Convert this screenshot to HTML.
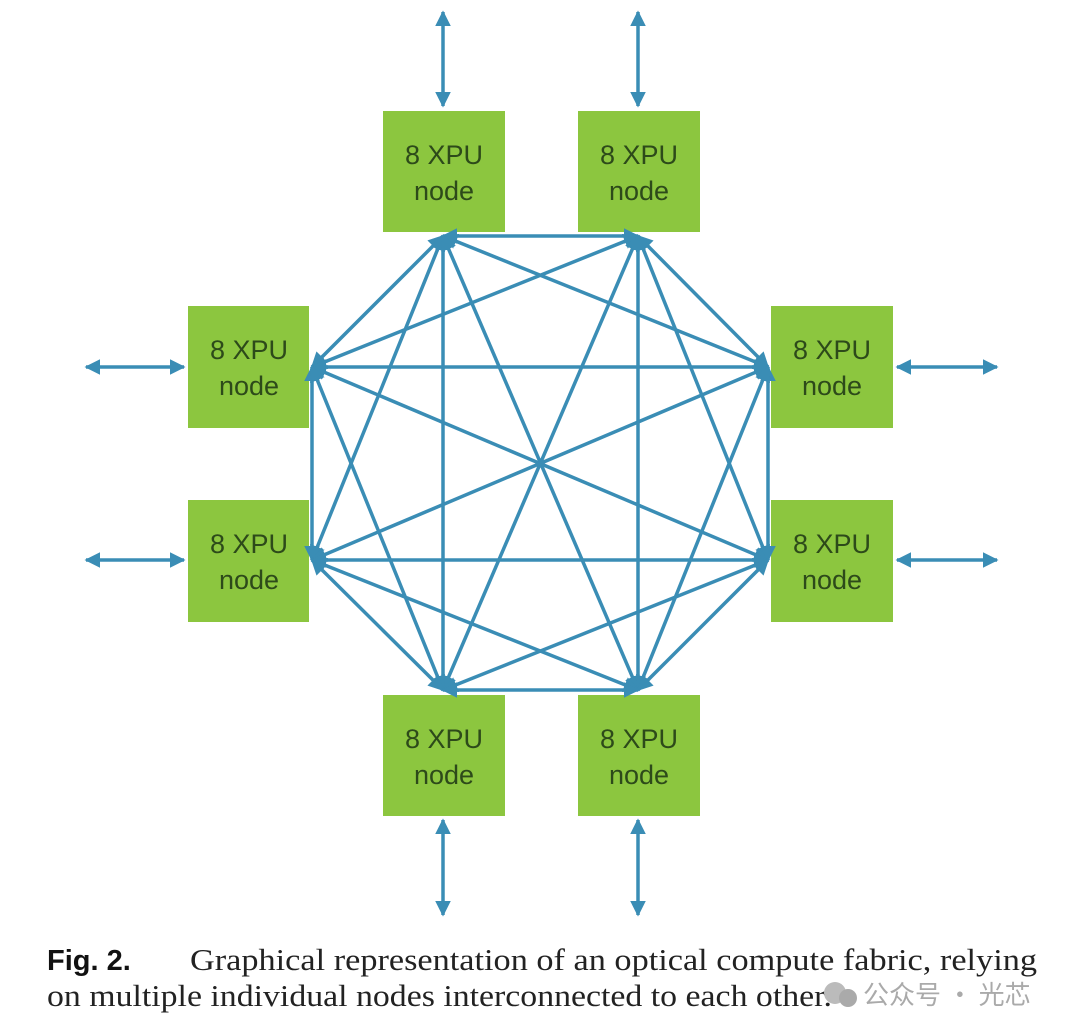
<!DOCTYPE html>
<html><head><meta charset="utf-8"><style>
html,body{margin:0;padding:0;background:#fff;width:1080px;height:1036px;overflow:hidden}
</style></head><body>
<svg width="1080" height="1036" viewBox="0 0 1080 1036" xmlns="http://www.w3.org/2000/svg">
<defs>
<marker id="a" viewBox="0 0 10 10" refX="9" refY="5" markerWidth="4.5" markerHeight="4.5" orient="auto-start-reverse" markerUnits="strokeWidth">
<path d="M0,0 L10,5 L0,10 z" fill="#3a8db5"/></marker>
</defs>
<g fill="#8cc63f">
<rect x="383" y="111" width="122" height="121"/>
<rect x="578" y="111" width="122" height="121"/>
<rect x="188" y="306" width="121" height="122"/>
<rect x="771" y="306" width="122" height="122"/>
<rect x="188" y="500" width="121" height="122"/>
<rect x="771" y="500" width="122" height="122"/>
<rect x="383" y="695" width="122" height="121"/>
<rect x="578" y="695" width="122" height="121"/>
</g>
<g font-family="Liberation Sans, sans-serif" font-size="27" fill="#2d4a1a" text-anchor="middle">
<text x="444" y="164">8 XPU</text><text x="444" y="200">node</text>
<text x="639" y="164">8 XPU</text><text x="639" y="200">node</text>
<text x="249" y="359">8 XPU</text><text x="249" y="395">node</text>
<text x="832" y="359">8 XPU</text><text x="832" y="395">node</text>
<text x="249" y="553">8 XPU</text><text x="249" y="589">node</text>
<text x="832" y="553">8 XPU</text><text x="832" y="589">node</text>
<text x="444" y="748">8 XPU</text><text x="444" y="784">node</text>
<text x="639" y="748">8 XPU</text><text x="639" y="784">node</text>
</g>
<g stroke="#3a8db5" stroke-width="3.5" marker-start="url(#a)" marker-end="url(#a)" fill="none">
<line x1="443" y1="12" x2="443" y2="106"/>
<line x1="638" y1="12" x2="638" y2="106"/>
<line x1="443" y1="820" x2="443" y2="915"/>
<line x1="638" y1="820" x2="638" y2="915"/>
<line x1="86" y1="367" x2="184" y2="367"/>
<line x1="86" y1="560" x2="184" y2="560"/>
<line x1="897" y1="367" x2="997" y2="367"/>
<line x1="897" y1="560" x2="997" y2="560"/>
<line x1="443" y1="236" x2="638" y2="236"/>
<line x1="443" y1="236" x2="312" y2="367"/>
<line x1="443" y1="236" x2="768" y2="367"/>
<line x1="443" y1="236" x2="312" y2="560"/>
<line x1="443" y1="236" x2="443" y2="690"/>
<line x1="443" y1="236" x2="638" y2="690"/>
<line x1="638" y1="236" x2="312" y2="367"/>
<line x1="638" y1="236" x2="768" y2="367"/>
<line x1="638" y1="236" x2="768" y2="560"/>
<line x1="638" y1="236" x2="443" y2="690"/>
<line x1="638" y1="236" x2="638" y2="690"/>
<line x1="312" y1="367" x2="768" y2="367"/>
<line x1="312" y1="367" x2="312" y2="560"/>
<line x1="312" y1="367" x2="768" y2="560"/>
<line x1="312" y1="367" x2="443" y2="690"/>
<line x1="768" y1="367" x2="312" y2="560"/>
<line x1="768" y1="367" x2="768" y2="560"/>
<line x1="768" y1="367" x2="638" y2="690"/>
<line x1="312" y1="560" x2="768" y2="560"/>
<line x1="312" y1="560" x2="443" y2="690"/>
<line x1="312" y1="560" x2="638" y2="690"/>
<line x1="768" y1="560" x2="443" y2="690"/>
<line x1="768" y1="560" x2="638" y2="690"/>
<line x1="443" y1="690" x2="638" y2="690"/>
</g>
<text x="47" y="970" font-family="Liberation Sans, sans-serif" font-weight="bold" font-size="29" fill="#111">Fig. 2.</text>
<text x="190" y="970" font-family="Liberation Serif, serif" font-size="31" fill="#222" textLength="847" lengthAdjust="spacingAndGlyphs">Graphical representation of an optical compute fabric, relying</text>
<text x="47" y="1006" font-family="Liberation Serif, serif" font-size="31" fill="#222" textLength="785" lengthAdjust="spacingAndGlyphs">on multiple individual nodes interconnected to each other.</text>
<circle cx="835" cy="993" r="11" fill="#bbb"/><circle cx="848" cy="998" r="9" fill="#aaa"/>
<text x="863" y="1004" font-family="Noto Sans CJK SC, sans-serif" font-size="26" fill="#aaa">公众号 · 光芯</text>
</svg>
</body></html>
